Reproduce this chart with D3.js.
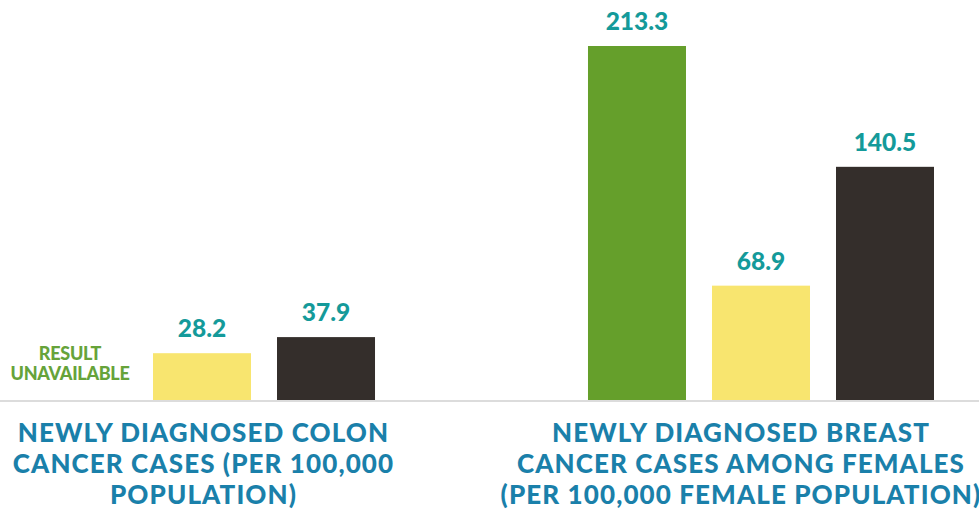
<!DOCTYPE html>
<html>
<head>
<meta charset="utf-8">
<script src="https://cdn.jsdelivr.net/npm/d3@7"></script>
<style>
  html, body { margin: 0; padding: 0; background: #fff; }
  svg { display: block; }
  text { font-family: Lato, "Open Sans", sans-serif; }
</style>
</head>
<body>
<svg id="chart" width="979" height="510"></svg>
<script>
// Measures (groups along the axis)
const categories = ["colon", "breast"];
const categoryTitles = [
  ["NEWLY DIAGNOSED COLON", "CANCER CASES (PER 100,000", "POPULATION)"],
  ["NEWLY DIAGNOSED BREAST", "CANCER CASES AMONG FEMALES", "(PER 100,000 FEMALE POPULATION)"]
];
// Series within each group
const series = ["county", "state", "nation"];
const countyValues = [null, 213.3];
const stateValues = [28.2, 68.9];
const nationValues = [37.9, 140.5];
const missingLabel = ["RESULT", "UNAVAILABLE"];

const colors = { county: "#659f2b", state: "#f8e56f", nation: "#342e2b" };

const svg = d3.select("#chart");
const W = 979, H = 510;
const baseY = 400;

const x0 = d3.scaleBand().domain(categories).range([29, 934]).paddingInner(0.381).paddingOuter(0);
const x1 = d3.scaleBand().domain(series).range([0, x0.bandwidth()]).paddingInner(0.2097).paddingOuter(0);
const y = d3.scaleLinear().domain([0, 213.3]).range([baseY, 46]);

const rows = categories.map((c, i) => ({
  category: c,
  values: [
    { key: "county", value: countyValues[i] },
    { key: "state", value: stateValues[i] },
    { key: "nation", value: nationValues[i] }
  ]
}));

const groups = svg.selectAll("g.group").data(rows).join("g")
  .attr("class", "group")
  .attr("transform", d => `translate(${x0(d.category)},0)`);

// Bars
groups.selectAll("rect").data(d => d.values.filter(v => v.value != null)).join("rect")
  .attr("x", d => x1(d.key))
  .attr("width", x1.bandwidth())
  .attr("y", d => y(d.value))
  .attr("height", d => baseY - y(d.value))
  .attr("fill", d => colors[d.key]);

// Value labels
groups.selectAll("text.val").data(d => d.values.filter(v => v.value != null)).join("text")
  .attr("class", "val")
  .attr("x", d => x1(d.key) + x1.bandwidth() / 2)
  .attr("y", d => y(d.value) - 16)
  .attr("text-anchor", "middle")
  .attr("fill", "#149a9a")
  .attr("font-weight", 900)
  .attr("font-size", 24.5)
  .text(d => d.value.toFixed(1));

// Missing-value note, set slightly left of the empty slot
groups.each(function(d) {
  d.values.filter(v => v.value == null).forEach(v => {
    const t = d3.select(this).append("text")
      .attr("text-anchor", "middle")
      .attr("fill", "#66a33a")
      .attr("font-weight", 900)
      .attr("font-size", 18)
      .attr("letter-spacing", -0.3);
    missingLabel.forEach((line, k) => {
      t.append("tspan")
        .attr("x", x1(v.key) + x1.bandwidth() / 2 - 8)
        .attr("y", 360 + k * 20)
        .text(line);
    });
  });
});

// Baseline
svg.append("line")
  .attr("x1", 0).attr("x2", W)
  .attr("y1", baseY + 1).attr("y2", baseY + 1)
  .attr("stroke", "#dcdcdc").attr("stroke-width", 2);

// Category titles
const titleShift = { colon: 1.5, breast: -20 };
categories.forEach((c, i) => {
  const cx = x0(c) + x0.bandwidth() / 2 + titleShift[c];
  const t = svg.append("text")
    .attr("text-anchor", "middle")
    .attr("fill", "#1a80aa")
    .attr("font-weight", 900)
    .attr("font-size", 26)
    .attr("letter-spacing", 1.1);
  categoryTitles[i].forEach((line, k) => {
    t.append("tspan").attr("x", cx).attr("y", 442 + k * 31).text(line);
  });
});
</script>
</body>
</html>
